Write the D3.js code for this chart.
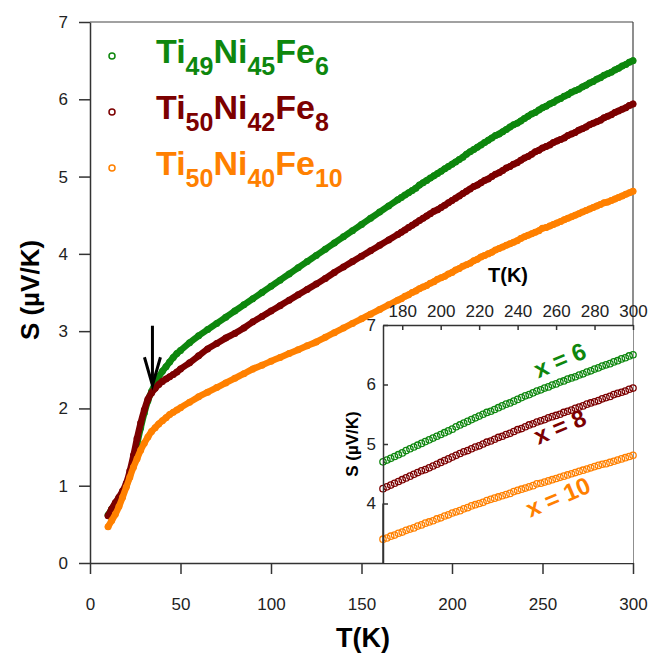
<!DOCTYPE html>
<html>
<head>
<meta charset="utf-8">
<script src="https://cdn.jsdelivr.net/npm/d3@7"></script>
<style>
  body { margin: 0; background: #fff; }
  text { font-family: Arial, "Liberation Sans", sans-serif; }
</style>
</head>
<body>
<div id="chart"></div>
<script>
// Temperatures (K) shared by the three samples
const temps = [10,12,14,16,18,20,22,24,26,28,30,32,34,36,38,40,42,44,46,48,50,
  55,60,65,70,75,80,85,90,95,100,105,110,115,120,125,130,135,140,145,150,155,160,165,
  170,172,174,176,178,180,182,184,186,188,190,192,194,196,198,200,202,204,206,208,
  210,212,214,216,218,220,222,224,226,228,230,232,234,236,238,240,242,244,246,248,
  250,252,254,256,258,260,262,264,266,268,270,272,274,276,278,280,282,284,286,288,
  290,292,294,296,298,300];

// Thermopower S (uV/K)
const sX6 = [0.62,0.70,0.77,0.84,0.91,1.00,1.14,1.33,1.54,1.75,1.94,2.10,2.22,2.32,2.41,2.48,2.54,2.60,2.66,2.71,2.75,
  2.85,2.94,3.02,3.10,3.18,3.26,3.34,3.42,3.50,3.58,3.66,3.74,3.82,3.90,3.98,4.06,4.14,4.22,4.30,4.38,4.46,4.54,4.62,
  4.70,4.73,4.76,4.79,4.82,4.85,4.89,4.92,4.95,4.98,5.01,5.04,5.07,5.10,5.13,5.16,5.19,5.22,5.25,5.29,
  5.32,5.35,5.38,5.41,5.44,5.47,5.50,5.53,5.55,5.58,5.61,5.64,5.67,5.69,5.72,5.75,5.78,5.81,5.83,5.86,
  5.89,5.91,5.94,5.96,5.99,6.01,6.04,6.06,6.09,6.11,6.13,6.16,6.18,6.21,6.23,6.26,6.28,6.31,6.33,6.35,
  6.38,6.40,6.43,6.45,6.48,6.50];
const sX8 = [0.61,0.70,0.78,0.85,0.93,1.03,1.19,1.39,1.61,1.81,1.98,2.12,2.20,2.26,2.31,2.35,2.38,2.41,2.44,2.47,2.51,
  2.59,2.68,2.77,2.84,2.91,2.97,3.04,3.12,3.19,3.26,3.33,3.40,3.47,3.54,3.61,3.68,3.76,3.83,3.90,3.97,4.04,4.11,4.18,
  4.25,4.28,4.31,4.34,4.37,4.40,4.43,4.46,4.49,4.52,4.55,4.57,4.60,4.63,4.66,4.69,4.72,4.75,4.78,4.81,
  4.84,4.87,4.89,4.92,4.95,4.97,5.00,5.03,5.05,5.08,5.11,5.13,5.16,5.18,5.21,5.24,5.26,5.29,5.32,5.34,
  5.37,5.39,5.41,5.44,5.46,5.48,5.50,5.53,5.55,5.57,5.60,5.62,5.64,5.67,5.69,5.71,5.73,5.76,5.78,5.80,
  5.83,5.85,5.87,5.89,5.92,5.94];
const sX10 = [0.47,0.55,0.63,0.73,0.85,0.98,1.11,1.24,1.35,1.46,1.55,1.63,1.70,1.75,1.80,1.84,1.88,1.92,1.95,1.98,2.01,
  2.08,2.15,2.21,2.27,2.33,2.39,2.45,2.51,2.56,2.61,2.66,2.71,2.76,2.81,2.86,2.92,2.98,3.04,3.10,3.16,3.22,3.28,3.34,
  3.40,3.42,3.45,3.47,3.50,3.52,3.55,3.57,3.59,3.62,3.64,3.67,3.69,3.71,3.74,3.76,3.79,3.81,3.84,3.86,
  3.88,3.91,3.93,3.96,3.98,4.00,4.02,4.05,4.07,4.09,4.11,4.13,4.15,4.17,4.20,4.22,4.24,4.26,4.28,4.30,
  4.33,4.34,4.36,4.38,4.40,4.42,4.44,4.46,4.48,4.50,4.52,4.54,4.56,4.58,4.60,4.62,4.64,4.66,4.67,4.69,
  4.71,4.73,4.75,4.77,4.79,4.81];

// legend: element / subscript pairs
const legendLabels = [
  [["Ti","49"],["Ni","45"],["Fe","6"]],
  [["Ti","50"],["Ni","42"],["Fe","8"]],
  [["Ti","50"],["Ni","40"],["Fe","10"]]
];
const insetLabels = ["x = 6", "x = 8", "x = 10"];
const insetLabelAt = [[262, 6.41], [262, 5.29], [261, 4.11]];  // T, S

const xTicks = [0,50,100,150,200,250,300];
const yTicks = [0,1,2,3,4,5,6,7];
const insetXTicks = [180,200,220,240,260,280,300];
const insetYTicks = [4,5,6,7];

const colors = ["#0e870e", "#7c0000", "#ff8000"];
const series = [sX6, sX8, sX10].map(function(s) {
  return temps.map(function(t, i) { return {t: t, s: s[i]}; });
});

const svg = d3.select("#chart").append("svg")
  .attr("width", 651).attr("height", 654);

const x = d3.scaleLinear().domain([0, 300]).range([90, 633]);
const y = d3.scaleLinear().domain([0, 7]).range([563, 22]);
const fmt = d3.format("d");

function styleAxis(g, size) {
  g.select(".domain").attr("stroke", "#333").attr("stroke-width", 1.5);
  g.selectAll(".tick line").attr("stroke", "#333").attr("stroke-width", 1.5);
  g.selectAll(".tick text").attr("fill", "#222").attr("font-size", size)
    .attr("font-family", "Arial, 'Liberation Sans', sans-serif");
}

// main axes
const gx = svg.append("g").attr("transform", "translate(0,563)")
  .call(d3.axisBottom(x).tickValues(xTicks).tickFormat(fmt).tickSize(11).tickSizeOuter(0).tickPadding(24));
styleAxis(gx, 17);
const gy = svg.append("g").attr("transform", "translate(90,0)")
  .call(d3.axisLeft(y).tickValues(yTicks).tickFormat(fmt).tickSize(11).tickSizeOuter(0).tickPadding(11));
styleAxis(gy, 17);

// frame top and right
svg.append("line").attr("x1", x(0)).attr("x2", x(300)).attr("y1", y(7)).attr("y2", y(7))
  .attr("stroke", "#444").attr("stroke-width", 1.2);
svg.append("line").attr("x1", x(300)).attr("x2", x(300)).attr("y1", y(7)).attr("y2", y(0))
  .attr("stroke", "#444").attr("stroke-width", 1.2);

// axis titles
svg.append("text").attr("x", 363).attr("y", 647).attr("text-anchor", "middle")
  .attr("font-size", 27).attr("font-weight", "bold").text("T(K)");
svg.append("text").attr("transform", "translate(39,290) rotate(-90)").attr("text-anchor", "middle")
  .attr("font-size", 26).attr("font-weight", "bold").text("S (\u00b5V/K)");

// main curves: dense open circles drawn as thick band
const line = d3.line().x(function(d) { return x(d.t); }).y(function(d) { return y(d.s); })
  .curve(d3.curveMonotoneX);
series.forEach(function(data, k) {
  svg.append("path").datum(data).attr("d", line)
    .attr("fill", "none").attr("stroke", colors[k]).attr("stroke-width", 6.5)
    .attr("stroke-linecap", "round").attr("stroke-linejoin", "round");
  svg.append("g").selectAll("circle").data(data).enter().append("circle")
    .attr("cx", function(d) { return x(d.t); })
    .attr("cy", function(d) { return y(d.s); })
    .attr("r", 2.9).attr("fill", "none")
    .attr("stroke", colors[k]).attr("stroke-width", 1.2);
});

// arrow at the kink
const arrowT = 34.5;
const ax = x(arrowT), aTop = y(3.07), aTip = y(2.30);
svg.append("line").attr("x1", ax).attr("x2", ax).attr("y1", aTop).attr("y2", aTip - 1)
  .attr("stroke", "#000").attr("stroke-width", 3);
svg.append("path").attr("d", "M" + (ax - 8) + "," + (aTip - 28) + "L" + ax + "," + aTip + "L" + (ax + 8) + "," + (aTip - 28))
  .attr("fill", "none").attr("stroke", "#000").attr("stroke-width", 3);

// legend
legendLabels.forEach(function(parts, k) {
  const base = 63 + k * 56;
  svg.append("circle").attr("cx", 112).attr("cy", base - 7).attr("r", 3)
    .attr("fill", "none").attr("stroke", colors[k]).attr("stroke-width", 1.5);
  const t = svg.append("text").attr("x", 156).attr("y", base)
    .attr("fill", colors[k]).attr("font-weight", "bold");
  parts.forEach(function(p, j) {
    t.append("tspan").attr("font-size", 34).attr("dy", j === 0 ? 0 : -12).text(p[0]);
    t.append("tspan").attr("font-size", 25).attr("dy", 12).text(p[1]);
  });
});

// inset
const ix = d3.scaleLinear().domain([170, 300]).range([383, 633]);
const iy = d3.scaleLinear().domain([3, 7]).range([563, 325]);
svg.append("rect").attr("x", ix(170)).attr("y", iy(7))
  .attr("width", ix(300) - ix(170)).attr("height", iy(3) - iy(7)).attr("fill", "#fff");

series.forEach(function(data, k) {
  svg.append("g").selectAll("circle").data(data.filter(function(d) { return d.t >= 170; }))
    .enter().append("circle")
    .attr("cx", function(d) { return ix(d.t); })
    .attr("cy", function(d) { return iy(d.s); })
    .attr("r", 3.2).attr("fill", "none")
    .attr("stroke", colors[k]).attr("stroke-width", 1.3);
});

const igx = svg.append("g").attr("transform", "translate(0," + iy(7) + ")")
  .call(d3.axisTop(ix).tickValues(insetXTicks).tickFormat(fmt).tickSize(-5).tickSizeOuter(0).tickPadding(8));
styleAxis(igx, 17);
const igy = svg.append("g").attr("transform", "translate(" + ix(170) + ",0)")
  .call(d3.axisLeft(iy).tickValues(insetYTicks).tickFormat(fmt).tickSize(-5).tickSizeOuter(0).tickPadding(7));
styleAxis(igy, 17);
svg.append("line").attr("x1", ix(170)).attr("x2", ix(170)).attr("y1", iy(4)).attr("y2", iy(3))
  .attr("stroke", "#333").attr("stroke-width", 1.5);

svg.append("text").attr("x", 508).attr("y", 282).attr("text-anchor", "middle")
  .attr("font-size", 20).attr("font-weight", "bold").text("T(K)");
svg.append("text").attr("transform", "translate(358,444) rotate(-90)").attr("text-anchor", "middle")
  .attr("font-size", 17).attr("font-weight", "bold").text("S (\u00b5V/K)");

insetLabels.forEach(function(lbl, k) {
  const px = ix(insetLabelAt[k][0]), py = iy(insetLabelAt[k][1]);
  svg.append("text").attr("transform", "translate(" + px + "," + py + ") rotate(-23)")
    .attr("text-anchor", "middle").attr("dy", "0.35em")
    .attr("font-size", 24).attr("font-weight", "bold").attr("fill", colors[k]).text(lbl);
});
</script>
</body>
</html>
